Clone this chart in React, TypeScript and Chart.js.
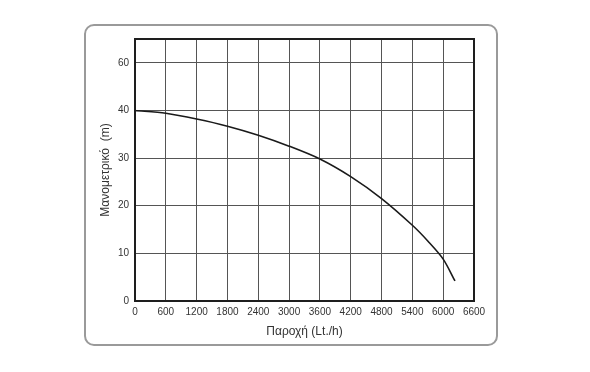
import React, { useEffect, useRef } from "react";
import { Chart, registerables } from "chart.js";

Chart.register(...registerables);

const flowValues = [0, 600, 1200, 1800, 2400, 3000, 3600, 4200, 4800, 5400, 5700, 6000, 6230];
const headValues = [40, 39.4, 38.2, 36.7, 34.8, 32.5, 29.8, 26.1, 21.5, 15.9, 12.6, 8.8, 4.2];
const yTickLabels = ["0", "10", "20", "30", "40", "60"];
const xTitle = "Παροχή (Lt./h)";
const yTitle = "Μανομετρικό  (m)";

const framePlugin = {
  id: "frame",
  afterDraw(chart: any) {
    const { ctx, chartArea } = chart;
    ctx.save();
    ctx.strokeStyle = "#1e1e1e";
    ctx.lineWidth = 2;
    ctx.strokeRect(chartArea.left, chartArea.top, chartArea.right - chartArea.left, chartArea.bottom - chartArea.top);
    ctx.restore();
  },
};

export default function App() {
  const ref = useRef<HTMLCanvasElement>(null);
  useEffect(() => {
    if (!ref.current) return;
    const data = flowValues.map((x, i) => ({ x, y: headValues[i] }));
    const chart = new Chart(ref.current, {
      type: "line",
      data: {
        datasets: [
          {
            data,
            borderColor: "#1a1a1a",
            borderWidth: 1.6,
            pointRadius: 0,
            tension: 0.3,
            fill: false,
          },
        ],
      },
      plugins: [framePlugin],
      options: {
        animation: false,
        responsive: false,
        devicePixelRatio: 1,
        layout: { padding: { left: 98, right: 116, top: 39, bottom: 33 } },
        plugins: { legend: { display: false }, tooltip: { enabled: false } },
        scales: {
          x: {
            type: "linear",
            min: 0,
            max: 6600,
            afterFit: (s: any) => {
              s.height = 38;
            },
            ticks: {
              stepSize: 600,
              autoSkip: false,
              maxRotation: 0,
              color: "#333",
              padding: 5,
              font: { family: "Liberation Sans, Arial", size: 10 },
              callback: (v: any) => String(v),
            },
            grid: { color: "#555", lineWidth: 1, drawTicks: false },
            border: { display: false },
            title: {
              display: true,
              text: xTitle,
              color: "#333",
              padding: { top: 2, bottom: 0 },
              font: { family: "Liberation Sans, Arial", size: 12 },
            },
          },
          y: {
            type: "linear",
            min: 0,
            max: 55,
            afterFit: (s: any) => {
              s.width = 37;
            },
            afterBuildTicks: (s: any) => {
              s.ticks = s.ticks.filter((t: any) => t.value % 10 === 0);
            },
            ticks: {
              stepSize: 10,
              color: "#333",
              padding: 6,
              font: { family: "Liberation Sans, Arial", size: 10 },
              callback: (v: any) => yTickLabels[Math.round(Number(v) / 10)],
            },
            grid: { color: "#555", lineWidth: 1, drawTicks: false },
            border: { display: false },
            title: {
              display: true,
              text: yTitle,
              color: "#333",
              padding: { top: 0, bottom: 0 },
              font: { family: "Liberation Sans, Arial", size: 12 },
            },
          },
        },
      },
    });
    return () => chart.destroy();
  }, []);
  return (
    <div style={{ position: "fixed", left: 0, top: 0, width: 590, height: 372, background: "#fff" }}>
      <div
        style={{
          position: "absolute",
          left: 84,
          top: 24,
          width: 410,
          height: 318,
          border: "2.5px solid #9a9a9a",
          borderRadius: 10,
          boxSizing: "content-box",
        }}
      />
      <canvas ref={ref} width={590} height={372} style={{ position: "absolute", left: 0, top: 0 }} />
    </div>
  );
}
